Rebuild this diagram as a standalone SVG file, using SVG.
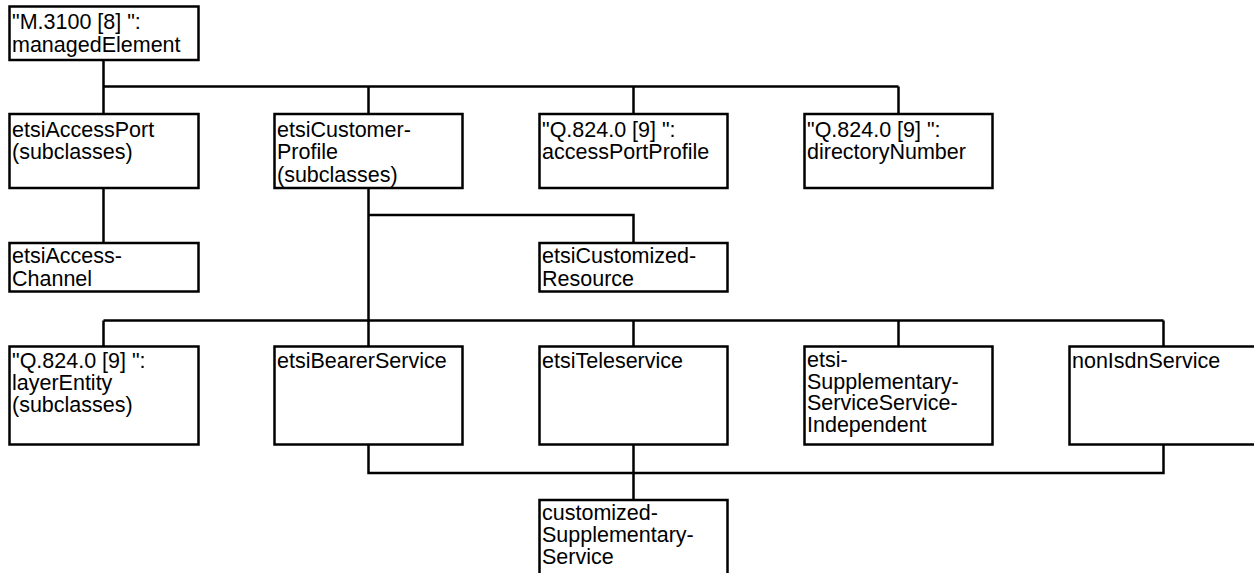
<svg xmlns="http://www.w3.org/2000/svg" width="1254" height="573" viewBox="0 0 1254 573">
<style>
.box{fill:#fff;stroke:#000;stroke-width:2.5}
.lbl{font-family:"Liberation Sans",Arial,sans-serif;font-size:21.5px;fill:#000}
.conn{fill:none;stroke:#000;stroke-width:2.5}
</style>
<rect width="1254" height="573" fill="#fff"/>
<g id="connectors" class="conn">
<path d="M103.5 60 V86.5 M103.5 86.5 H898.5 M103.5 86.5 V114 M368.5 86.5 V114 M633.5 86.5 V114 M898.5 86.5 V114"/>
<path d="M103.5 188 V243"/>
<path d="M368.5 188 V320.5 M368.5 215 H633.5 V243"/>
<path d="M103.5 320.5 H1163.5 M103.5 320.5 V346.5 M368.5 320.5 V346.5 M633.5 320.5 V346.5 M898.5 320.5 V346.5 M1163.5 320.5 V346.5"/>
<path d="M368.5 444.5 V473 H1163.5 V444.5 M633.5 444.5 V500"/>
</g>
<g id="managedElement"><rect class="box" x="9.5" y="6.5" width="189" height="53.5"/>
<text class="lbl" y="28.5"><tspan x="12">"M.3100 [8] ":</tspan><tspan x="12" dy="23.5">managedElement</tspan></text></g>
<g id="etsiAccessPort"><rect class="box" x="9.5" y="114" width="189" height="74"/>
<text class="lbl" y="136.5"><tspan x="12">etsiAccessPort</tspan><tspan x="12" dy="22.5">(subclasses)</tspan></text></g>
<g id="etsiCustomerProfile"><rect class="box" x="274.5" y="114" width="188" height="74"/>
<text class="lbl" y="136.5"><tspan x="277">etsiCustomer-</tspan><tspan x="277" dy="22.5">Profile</tspan><tspan x="277" dy="22.5">(subclasses)</tspan></text></g>
<g id="accessPortProfile"><rect class="box" x="539.5" y="114" width="188" height="74"/>
<text class="lbl" y="136.5"><tspan x="542">"Q.824.0 [9] ":</tspan><tspan x="542" dy="22.5">accessPortProfile</tspan></text></g>
<g id="directoryNumber"><rect class="box" x="804.5" y="114" width="188" height="74"/>
<text class="lbl" y="136.5"><tspan x="807">"Q.824.0 [9] ":</tspan><tspan x="807" dy="22.5">directoryNumber</tspan></text></g>
<g id="etsiAccessChannel"><rect class="box" x="9.5" y="243" width="189" height="48.5"/>
<text class="lbl" y="263"><tspan x="12">etsiAccess-</tspan><tspan x="12" dy="22.5">Channel</tspan></text></g>
<g id="etsiCustomizedResource"><rect class="box" x="539.5" y="243" width="188" height="48.5"/>
<text class="lbl" y="263"><tspan x="542">etsiCustomized-</tspan><tspan x="542" dy="22.5">Resource</tspan></text></g>
<g id="layerEntity"><rect class="box" x="9.5" y="346.5" width="189" height="98"/>
<text class="lbl" y="368"><tspan x="12">"Q.824.0 [9] ":</tspan><tspan x="12" dy="22">layerEntity</tspan><tspan x="12" dy="22">(subclasses)</tspan></text></g>
<g id="etsiBearerService"><rect class="box" x="274.5" y="346.5" width="188" height="98"/>
<text class="lbl" x="277" y="368">etsiBearerService</text></g>
<g id="etsiTeleservice"><rect class="box" x="539.5" y="346.5" width="188" height="98"/>
<text class="lbl" x="542" y="368">etsiTeleservice</text></g>
<g id="etsiSupplementaryServiceServiceIndependent"><rect class="box" x="804.5" y="346.5" width="188" height="98"/>
<text class="lbl" y="367"><tspan x="807">etsi-</tspan><tspan x="807" dy="21.7">Supplementary-</tspan><tspan x="807" dy="21.7">ServiceService-</tspan><tspan x="807" dy="21.7">Independent</tspan></text></g>
<g id="nonIsdnService"><rect class="box" x="1069.5" y="346.5" width="188" height="98"/>
<text class="lbl" x="1072" y="368">nonIsdnService</text></g>
<g id="customizedSupplementaryService"><rect class="box" x="539.5" y="500" width="188" height="76"/>
<text class="lbl" y="520"><tspan x="542">customized-</tspan><tspan x="542" dy="22">Supplementary-</tspan><tspan x="542" dy="22">Service</tspan></text></g>
</svg>
